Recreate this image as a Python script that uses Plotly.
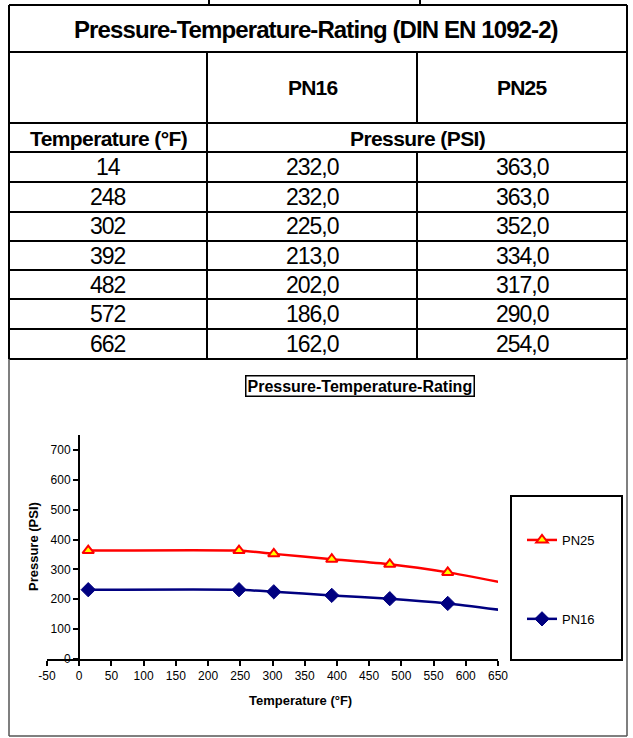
import plotly.graph_objects as go

# ---------------- data ----------------
title_text = "Pressure-Temperature-Rating (DIN EN 1092-2)"
series_names = ["PN16", "PN25"]
temperature_f = [14, 248, 302, 392, 482, 572, 662]
pn16_psi = [232.0, 232.0, 225.0, 213.0, 202.0, 186.0, 162.0]
pn25_psi = [363.0, 363.0, 352.0, 334.0, 317.0, 290.0, 254.0]
x_tick_vals = [-50, 0, 50, 100, 150, 200, 250, 300, 350, 400, 450, 500, 550, 600, 650]
x_tick_text = ["-50", "0", "50", "100", "150", "200", "250", "300", "350", "400",
               "450", "500", "550", "600", "650"]
y_tick_vals = [0, 100, 200, 300, 400, 500, 600, 700]

W, H = 633, 738


def px(x):
    return x / W


def py(y):
    return 1 - y / H


TABLE_FONT = "Liberation Sans Narrow, Arial Narrow, Liberation Sans, Arial, sans-serif"
CHART_FONT = "Liberation Sans, Arial, Helvetica, sans-serif"

fig = go.Figure()

fig.add_trace(go.Scatter(
    x=temperature_f, y=pn25_psi, name=series_names[1], mode="lines+markers",
    line=dict(color="#ff0000", width=2.5, shape="spline", smoothing=0.5),
    marker=dict(symbol="triangle-up", size=10, color="#ffff00",
                line=dict(color="#ff0000", width=2)),
    legendgroup="a",
))
fig.add_trace(go.Scatter(
    x=temperature_f, y=pn16_psi, name=series_names[0], mode="lines+markers",
    line=dict(color="#000080", width=2.5, shape="spline", smoothing=0.5),
    marker=dict(symbol="diamond", size=11, color="#000080",
                line=dict(color="#000080", width=1)),
    legendgroup="b",
))

shapes = []


def hline(y, x0=9, x1=627, w=2, c="black"):
    shapes.append(dict(type="line", xref="paper", yref="paper",
                       x0=px(x0), x1=px(x1), y0=py(y), y1=py(y),
                       line=dict(color=c, width=w)))


def vline(x, y0, y1, w=2, c="black"):
    shapes.append(dict(type="line", xref="paper", yref="paper",
                       x0=px(x), x1=px(x), y0=py(y0), y1=py(y1),
                       line=dict(color=c, width=w)))


# table grid
row_lines = [5, 52, 123, 152, 182, 212, 241, 270, 299, 329, 359]
for yy in row_lines:
    hline(yy)
vline(9, 5, 359)
vline(627, 5, 359)
vline(207, 52, 359)
vline(417, 52, 123)
vline(417, 152, 359)
vline(209, 0, 5)
vline(420, 0, 5)
# chart area border
vline(9, 359, 736, w=1.5, c="#555")
vline(627, 359, 736, w=1.5, c="#555")
hline(736, w=1.5, c="#555")
# legend box
shapes.append(dict(type="rect", xref="paper", yref="paper",
                   x0=px(511), x1=px(622), y0=py(660), y1=py(496),
                   line=dict(color="black", width=2), fillcolor="rgba(0,0,0,0)"))

annotations = []


def text(x, y, s, size, bold=False, spacing=0.0, font=TABLE_FONT):
    body = f"<b>{s}</b>" if bold else s
    if spacing:
        body = f"<span style='letter-spacing:{spacing}px'>{body}</span>"
    annotations.append(dict(
        x=px(x), y=py(y), xref="paper", yref="paper", showarrow=False,
        text=body, font=dict(family=font, size=size, color="black"),
        xanchor="center", yanchor="middle"))


text(316, 29, title_text, 24, bold=True, spacing=-0.9)
text(312, 88, series_names[0], 21, bold=True, spacing=-0.8)
text(522, 88, series_names[1], 21, bold=True, spacing=-0.8)
text(108, 138, "Temperature (°F)", 21, bold=True, spacing=-0.6)
text(417, 138, "Pressure (PSI)", 21, bold=True, spacing=-0.6)

row_centers = [167, 197, 226.5, 255.5, 284.5, 314, 344]
for yc, t, a, b in zip(row_centers, temperature_f, pn16_psi, pn25_psi):
    text(108, yc, f"{t}", 23, spacing=-1)
    text(312, yc, f"{a:.1f}".replace(".", ","), 23, spacing=-1)
    text(522, yc, f"{b:.1f}".replace(".", ","), 23, spacing=-1)

# chart title
annotations.append(dict(
    x=px(360), y=py(386), xref="paper", yref="paper", showarrow=False,
    text="<b>Pressure-Temperature-Rating</b>",
    font=dict(family=CHART_FONT, size=16, color="black"),
    bordercolor="black", borderwidth=1.5, borderpad=1, bgcolor="white",
    xanchor="center", yanchor="middle"))

# axis titles
annotations.append(dict(
    x=px(300), y=py(700), xref="paper", yref="paper", showarrow=False,
    text="<b>Temperature (°F)</b>",
    font=dict(family=CHART_FONT, size=13, color="black"),
    xanchor="center", yanchor="middle"))
annotations.append(dict(
    x=px(33), y=py(547), xref="paper", yref="paper", showarrow=False,
    text="<b>Pressure (PSI)</b>", textangle=-90,
    font=dict(family=CHART_FONT, size=13, color="black"),
    xanchor="center", yanchor="middle"))

fig.update_layout(
    width=W, height=H,
    margin=dict(l=0, r=0, t=0, b=0, pad=0, autoexpand=False),
    paper_bgcolor="white", plot_bgcolor="white",
    shapes=shapes, annotations=annotations,
    font=dict(family=CHART_FONT, size=12, color="black"),
    showlegend=True,
    legend=dict(x=px(522), y=py(525), xanchor="left", yanchor="top",
                bgcolor="rgba(0,0,0,0)", borderwidth=0,
                tracegroupgap=59, font=dict(family=CHART_FONT, size=13, color="black"),
                traceorder="grouped"),
    xaxis=dict(
        domain=[px(47), px(498)], range=[-50, 650],
        tickvals=x_tick_vals, ticktext=x_tick_text,
        showline=True, linecolor="black", linewidth=2,
        ticks="outside", ticklen=5, tickwidth=2, tickcolor="black",
        showgrid=False, zeroline=False, automargin=False,
        tickfont=dict(family=CHART_FONT, size=12, color="black"),
    ),
    yaxis=dict(
        domain=[py(659), py(435)], range=[0, 750],
        tickvals=y_tick_vals,
        anchor="free", position=px(79),
        showline=True, linecolor="black", linewidth=2,
        ticks="outside", ticklen=5, tickwidth=2, tickcolor="black",
        showgrid=False, zeroline=False, automargin=False,
        tickfont=dict(family=CHART_FONT, size=12, color="black"),
    ),
)

fig.write_html(
    "out.html",
    config={"displayModeBar": False},
    post_script="document.body.style.margin='0';document.documentElement.style.overflow='hidden';",
)
